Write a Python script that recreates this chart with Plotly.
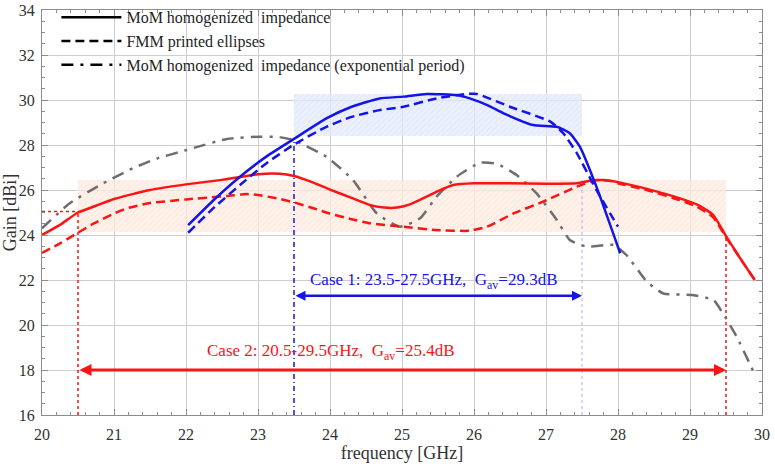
import plotly.graph_objects as go

# ---------------- data ----------------
mom_x = [20.0, 20.25, 20.5, 20.75, 21.0, 21.5, 22.0, 22.5, 23.0, 23.3, 23.5, 23.75, 24.0, 24.3,
         24.56, 24.75, 24.93, 25.1, 25.25, 25.5, 25.71, 26.0, 26.5, 27.0, 27.43, 27.63, 27.8,
         28.0, 28.4, 28.86, 29.1, 29.32, 29.5, 29.7, 29.9]
mom_y = [24.0, 24.45, 25.0, 25.3, 25.6, 26.0, 26.25, 26.45, 26.7, 26.72, 26.62, 26.35, 26.02, 25.65,
         25.33, 25.22, 25.22, 25.35, 25.56, 25.95, 26.22, 26.3, 26.3, 26.28, 26.3, 26.42, 26.44,
         26.35, 26.05, 25.63, 25.35, 24.9, 23.95, 22.95, 22.0]

fmm_x = [20.0, 20.25, 20.5, 20.71, 21.0, 21.18, 21.5, 22.0, 22.57, 22.84, 23.0, 23.26, 23.5, 23.77,
         24.0, 24.3, 24.56, 25.02, 25.48, 25.94, 26.18, 26.55, 26.96, 27.43, 27.7, 27.9, 28.0,
         28.4, 28.86, 29.1, 29.32, 29.5, 29.7, 29.9]
fmm_y = [23.2, 23.63, 24.1, 24.5, 24.95, 25.19, 25.42, 25.58, 25.73, 25.82, 25.78, 25.63, 25.45, 25.19,
         24.95, 24.7, 24.52, 24.37, 24.22, 24.19, 24.37, 24.96, 25.48, 26.15, 26.44, 26.4, 26.3,
         26.0, 25.55, 25.25, 24.8, 23.9, 22.95, 22.0]

mom_c1_x = [22.03, 22.4, 22.75, 23.1, 23.49, 23.95, 24.3, 24.69, 25.02, 25.34, 25.76, 25.94, 26.2,
            26.41, 26.82, 27.15, 27.33, 27.47, 27.7, 28.03]
mom_c1_y = [24.44, 25.6, 26.59, 27.45, 28.25, 29.18, 29.7, 30.07, 30.15, 30.27, 30.22, 30.07, 29.75,
            29.41, 28.89, 28.81, 28.52, 27.93, 26.15, 23.19]

fmm_c1_x = [22.03, 22.4, 22.75, 23.1, 23.49, 23.95, 24.3, 24.69, 25.02, 25.48, 25.9, 26.04, 26.5,
            27.06, 27.24, 27.43, 27.7, 28.0]
fmm_c1_y = [24.1, 25.25, 26.22, 27.15, 28.0, 28.81, 29.25, 29.55, 29.7, 30.07, 30.27, 30.27, 29.7,
            29.04, 28.52, 27.63, 26.0, 24.37]

exp_x = [20.0, 20.39, 20.85, 21.27, 21.6, 22.01, 22.57, 23.03, 23.3, 23.49, 23.95, 24.32, 24.65,
         24.97, 25.25, 25.48, 25.76, 26.08, 26.32, 26.59, 26.87, 27.15, 27.33, 27.57, 27.94, 28.12,
         28.4, 28.63, 29.04, 29.33, 29.46, 29.65, 29.9]
exp_y = [24.3, 25.42, 26.3, 26.98, 27.4, 27.78, 28.27, 28.37, 28.35, 28.22, 27.48, 26.44, 24.96,
         24.37, 24.74, 25.7, 26.59, 27.21, 27.16, 26.67, 25.85, 24.67, 23.78, 23.48, 23.56, 23.1,
         21.93, 21.4, 21.33, 21.1, 20.5, 19.47, 17.8]

# bands / cases
case1_range = [23.5, 27.5]
case1_band = [28.4, 30.25]
case1_arrow_y = 21.3
case1_label = "Case 1: 23.5-27.5GHz,  G<sub>av</sub>=29.3dB"
case1_start_gain = 28.25

case2_range = [20.5, 29.5]
case2_band = [24.15, 26.45]
case2_arrow_y = 18.0
case2_label = "Case 2: 20.5-29.5GHz,  G<sub>av</sub>=25.4dB"
case2_edge_gain = [25.05, 23.95]

legend_names = ["MoM homogenized  impedance", "FMM printed ellipses",
                "MoM homogenized  impedance (exponential period)"]

RED = "rgb(250,20,20)"
BLUE = "rgb(20,20,230)"
GRAY = "rgb(110,110,110)"
SERIF = "Liberation Serif"
TXT = "rgb(50,50,50)"

fig = go.Figure()

# hatched bands as bars
fig.add_trace(go.Bar(
    x=[(case2_range[0] + case2_range[1]) / 2], width=[case2_range[1] - case2_range[0]],
    base=[case2_band[0]], y=[case2_band[1] - case2_band[0]],
    marker=dict(color="rgba(253,236,226,0.75)", line_width=0,
                pattern=dict(shape="/", fgcolor="rgba(235,170,140,0.45)", size=4, solidity=0.2)),
    showlegend=False, hoverinfo="skip"))
fig.add_trace(go.Bar(
    x=[(case1_range[0] + case1_range[1]) / 2], width=[case1_range[1] - case1_range[0]],
    base=[case1_band[0]], y=[case1_band[1] - case1_band[0]],
    marker=dict(color="rgba(228,235,250,0.75)", line_width=0,
                pattern=dict(shape="/", fgcolor="rgba(150,170,230,0.45)", size=4, solidity=0.2)),
    showlegend=False, hoverinfo="skip"))

# reference lines
fig.add_trace(go.Scatter(x=[20.0, case2_range[0]], y=[case2_edge_gain[0]] * 2, mode="lines",
                         line=dict(color=RED, width=1.5, dash="dot"), showlegend=False))
fig.add_trace(go.Scatter(x=[case2_range[0]] * 2, y=[16, case2_edge_gain[0]], mode="lines",
                         line=dict(color=RED, width=1.5, dash="dot"), showlegend=False))
fig.add_trace(go.Scatter(x=[case2_range[1]] * 2, y=[16, case2_edge_gain[1]], mode="lines",
                         line=dict(color=RED, width=1.5, dash="dot"), showlegend=False))
fig.add_trace(go.Scatter(x=[case1_range[0]] * 2, y=[16, case1_start_gain], mode="lines",
                         line=dict(color=BLUE, width=1.5, dash="5px,3px,1px,3px"), showlegend=False))
fig.add_trace(go.Scatter(x=[case1_range[1]] * 2, y=[16, case2_band[1]], mode="lines",
                         line=dict(color="rgb(170,170,250)", width=1, dash="dot"), showlegend=False))

# curves
sm = 0.5
fig.add_trace(go.Scatter(x=exp_x, y=exp_y, mode="lines", line=dict(color=GRAY, width=2.5, dash="12px,7px,3px,7px", shape="spline", smoothing=sm), showlegend=False))
fig.add_trace(go.Scatter(x=mom_x, y=mom_y, mode="lines", line=dict(color=RED, width=2.5, shape="spline", smoothing=sm), showlegend=False))
fig.add_trace(go.Scatter(x=fmm_x, y=fmm_y, mode="lines", line=dict(color=RED, width=2.5, dash="9px,5px", shape="spline", smoothing=sm), showlegend=False))
fig.add_trace(go.Scatter(x=mom_c1_x, y=mom_c1_y, mode="lines", line=dict(color=BLUE, width=2.5, shape="spline", smoothing=sm), showlegend=False))
fig.add_trace(go.Scatter(x=fmm_c1_x, y=fmm_c1_y, mode="lines", line=dict(color=BLUE, width=2.5, dash="9px,5px", shape="spline", smoothing=sm), showlegend=False))

# legend entries
for name, dash in zip(legend_names, ["solid", "9px,5px", "12px,7px,3px,7px"]):
    fig.add_trace(go.Scatter(x=[None], y=[None], mode="lines", name=name,
                             line=dict(color="black", width=2.5, dash=dash)))

# arrows and labels
for rng, ay, col, w in [(case1_range, case1_arrow_y, BLUE, 2.5), (case2_range, case2_arrow_y, RED, 3)]:
    fig.add_annotation(x=rng[1], y=ay, ax=rng[0], ay=ay, xref="x", yref="y", axref="x", ayref="y",
                       text="", showarrow=True, arrowhead=2, startarrowhead=2, arrowside="end+start",
                       arrowsize=0.8, startarrowsize=0.8, arrowwidth=w, arrowcolor=col)
fig.add_annotation(x=25.44, y=21.95, xref="x", yref="y", text=case1_label, showarrow=False,
                   font=dict(family=SERIF, size=17, color=BLUE))
fig.add_annotation(x=24.01, y=18.8, xref="x", yref="y", text=case2_label, showarrow=False,
                   font=dict(family=SERIF, size=17, color=RED))

axis_common = dict(showline=True, linecolor="rgb(140,140,140)", linewidth=1, mirror="ticks",
                   ticks="inside", ticklen=6, tickcolor="rgb(140,140,140)",
                   gridcolor="rgb(205,205,205)", gridwidth=1, zeroline=False,
                   tickfont=dict(family=SERIF, size=16, color=TXT))

fig.update_layout(
    width=775, height=464,
    margin=dict(l=42, r=13, t=10, b=49, autoexpand=False),
    paper_bgcolor="white", plot_bgcolor="white",
    barmode="overlay", bargap=0,
    showlegend=True,
    legend=dict(x=0.02, y=1.024, xanchor="left", yanchor="top", bgcolor="rgba(0,0,0,0)",
                font=dict(family=SERIF, size=16, color="rgb(30,30,30)"), itemwidth=60,
                tracegroupgap=0),
    xaxis=dict(range=[20, 30], dtick=1, tick0=20,
               minor=dict(dtick=0.2, ticks="inside", ticklen=3, tickcolor="rgb(140,140,140)", showgrid=False),
               title=dict(text="frequency [GHz]", font=dict(family=SERIF, size=18, color=TXT), standoff=1),
               ticklabelstandoff=5, automargin=False, **axis_common),
    yaxis=dict(range=[16, 34], dtick=2, tick0=16,
               minor=dict(dtick=0.5, ticks="inside", ticklen=3, tickcolor="rgb(140,140,140)", showgrid=False),
               title=dict(text="Gain [dBi]", font=dict(family=SERIF, size=18, color=TXT), standoff=1),
               ticklabelstandoff=3, automargin=False, **axis_common),
)

fig.write_html("out.html")
